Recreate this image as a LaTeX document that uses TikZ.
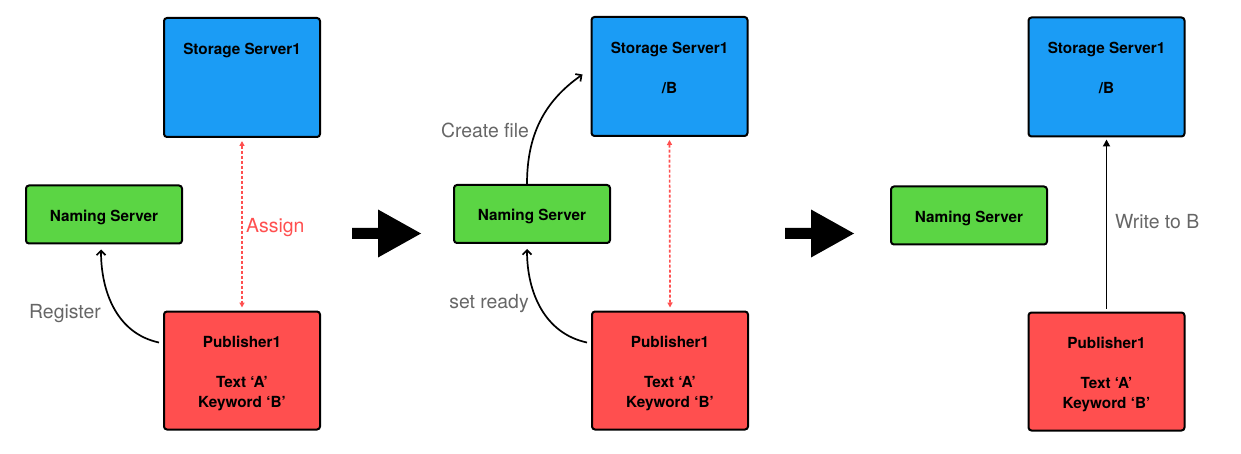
\documentclass[tikz,border=0pt]{standalone}
\usepackage{fontspec}
\setmainfont{TeX Gyre Heros}
\usetikzlibrary{arrows.meta,positioning}
\definecolor{storeblue}{HTML}{1B9CF5}
\definecolor{namegreen}{HTML}{5BD544}
\definecolor{pubred}{HTML}{FF4F4F}
\definecolor{lblgray}{HTML}{666666}
\newcommand{\padtop}[1]{\rule{0pt}{#1}}

\begin{document}
\begin{tikzpicture}[x=1pt,y=1pt,
  box/.style={draw=black,line width=2pt,rounded corners=3pt,align=center,inner sep=0pt,
    font=\fontsize{15.3}{20}\selectfont\bfseries},
  storebox/.style={box,fill=storeblue,minimum width=156pt,minimum height=119pt},
  namebox/.style={box,fill=namegreen,minimum width=156pt,minimum height=58pt},
  pubbox/.style={box,fill=pubred,minimum width=156pt,minimum height=118pt},
  lbl/.style={font=\fontsize{19.4}{23}\selectfont,text=lblgray,inner sep=0pt},
  flow/.style={-{Straight Barb[length=4.5pt,width=9pt]},line width=1.7pt},
  push/.style={-{Triangle[length=7pt,width=7pt]},line width=1.8pt},
  assign/.style={{Triangle[length=5pt,width=5pt]}-{Triangle[length=5pt,width=5pt]},
    draw=pubred,dash pattern=on 3pt off 2pt,line width=1.7pt}]
\useasboundingbox (0,0) rectangle (1241,-454);
% step 1: register
\node[storebox] (ss1) at (242,-77.5) {\padtop{20pt}Storage Server1\\[20pt]\strut\\\strut};
\node[namebox] (ns1) at (104,-214.5) {\padtop{17pt}Naming Server};
\node[pubbox] (pub1) at (242,-370.5) {\padtop{17pt}Publisher1\\[20pt]Text ‘A’\\Keyword ‘B’};
\draw[flow] ([xshift=-4pt,yshift=-32pt]pub1.north west) to[out=168,in=-90] ([xshift=-3pt,yshift=-5pt]ns1.south);
\node[lbl] (reg) at (65,-314) {Register};
\draw[assign] ([yshift=-3pt]ss1.south) -- ([yshift=3pt]pub1.north);
\node[lbl,text=pubred,anchor=west] (asg) at (246,-228) {Assign};
% big arrows between the steps
\foreach \x in {352,785}
  \fill[black] (\x,-228) -- (\x+26,-228) -- (\x+26,-209.5) -- (\x+69,-233.5) -- (\x+26,-257.5) -- (\x+26,-239) -- (\x,-239) -- cycle;
% step 2: create file
\node[storebox] (ss2) at (669.5,-76.5) {\padtop{20pt}Storage Server1\\[20pt]/B\\\strut};
\node[namebox] (ns2) at (532,-214) {\padtop{17pt}Naming Server};
\node[pubbox] (pub2) at (670,-370.5) {\padtop{17pt}Publisher1\\[20pt]Text ‘A’\\Keyword ‘B’};
\draw[flow] ([xshift=-5pt]ns2.north) to[out=90,in=215] ([xshift=-8pt,yshift=2pt]ss2.west);
\node[lbl] (crf) at (485,-130) {Create file};
\draw[flow] ([xshift=-4pt,yshift=-32pt]pub2.north west) to[out=168,in=-90] ([xshift=-5pt,yshift=-5pt]ns2.south);
\node[lbl] (rdy) at (489,-304) {set ready};
\draw[assign] ([yshift=-3pt]ss2.south) -- ([yshift=3pt]pub2.north);
% step 3: write
\node[storebox] (ss3) at (1106.5,-77) {\padtop{20pt}Storage Server1\\[20pt]/B\\\strut};
\node[namebox] (ns3) at (969,-215.5) {\padtop{17pt}Naming Server};
\node[pubbox] (pub3) at (1106.5,-371.5) {\padtop{17pt}Publisher1\\[20pt]Text ‘A’\\Keyword ‘B’};
\draw[push] ([yshift=3pt]pub3.north) -- ([yshift=-2pt]ss3.south);
\node[lbl,anchor=west] (wrt) at (1115,-221.5) {Write to B};
\end{tikzpicture}
\end{document}
